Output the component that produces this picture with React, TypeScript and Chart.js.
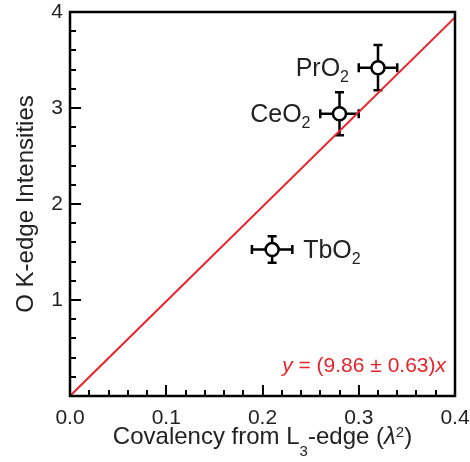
import React, { useEffect, useRef } from 'react';
import { Chart, registerables } from 'chart.js';

Chart.register(...registerables);

// ---- data ----
const compoundNames = ['PrO2', 'CeO2', 'TbO2'];
const covalency = [0.320, 0.280, 0.210];
const covalencyErr = [0.020, 0.020, 0.021];
const intensity = [3.42, 2.94, 1.525];
const intensityErr = [0.235, 0.225, 0.138];
const labelSide = ['left', 'left', 'right'];

// linear fit y = 9.86 x, drawn between its two end points
const fitX = [0, 0.4];
const fitY = [0, 3.944];
const fitSlope = '9.86';
const fitSlopeErr = '0.63';

const xTickValues = [0, 0.1, 0.2, 0.3, 0.4];
const yTickValues = [0, 1, 2, 3, 4];

const FONT = '"Liberation Sans", Arial, Helvetica, sans-serif';
const RED = '#e8232b';
const INK = '#222';

type Part = { t: string; size: number; dy?: number; italic?: boolean };

function fontOf(p: Part) {
  return `${p.italic ? 'italic ' : ''}${p.size}px ${FONT}`;
}
function richWidth(ctx: CanvasRenderingContext2D, parts: Part[]) {
  let w = 0;
  for (const p of parts) {
    ctx.font = fontOf(p);
    w += ctx.measureText(p.t).width;
  }
  return w;
}
function drawRich(ctx: CanvasRenderingContext2D, parts: Part[], x: number, y: number, align: 'left' | 'right' | 'center') {
  const w = richWidth(ctx, parts);
  let cx = align === 'left' ? x : align === 'right' ? x - w : x - w / 2;
  ctx.textAlign = 'left';
  ctx.textBaseline = 'alphabetic';
  for (const p of parts) {
    ctx.font = fontOf(p);
    ctx.fillText(p.t, cx, y + (p.dy || 0));
    cx += ctx.measureText(p.t).width;
  }
}

const decorPlugin = {
  id: 'decor',
  beforeDatasetsDraw(chart: any) {
    const ctx: CanvasRenderingContext2D = chart.ctx;
    const xs = chart.scales.x;
    const ys = chart.scales.y;
    ctx.save();
    ctx.strokeStyle = '#000';
    ctx.lineWidth = 2.5;
    const cap = 4.5;
    for (let i = 0; i < covalency.length; i++) {
      const px = xs.getPixelForValue(covalency[i]);
      const py = ys.getPixelForValue(intensity[i]);
      const x1 = xs.getPixelForValue(covalency[i] - covalencyErr[i]);
      const x2 = xs.getPixelForValue(covalency[i] + covalencyErr[i]);
      const y1 = ys.getPixelForValue(intensity[i] - intensityErr[i]);
      const y2 = ys.getPixelForValue(intensity[i] + intensityErr[i]);
      ctx.beginPath();
      ctx.moveTo(x1, py); ctx.lineTo(x2, py);
      ctx.moveTo(x1, py - cap); ctx.lineTo(x1, py + cap);
      ctx.moveTo(x2, py - cap); ctx.lineTo(x2, py + cap);
      ctx.moveTo(px, y1); ctx.lineTo(px, y2);
      ctx.moveTo(px - cap, y1); ctx.lineTo(px + cap, y1);
      ctx.moveTo(px - cap, y2); ctx.lineTo(px + cap, y2);
      ctx.stroke();
    }
    ctx.restore();
  },
  afterDraw(chart: any) {
    const ctx: CanvasRenderingContext2D = chart.ctx;
    const xs = chart.scales.x;
    const ys = chart.scales.y;
    const a = chart.chartArea;
    ctx.save();

    // frame
    ctx.strokeStyle = '#000';
    ctx.lineWidth = 2.5;
    ctx.strokeRect(a.left, a.top, a.right - a.left, a.bottom - a.top);

    // inward ticks
    ctx.lineWidth = 2;
    ctx.beginPath();
    for (let k = 1; k < 20; k++) {
      const v = k * 0.02;
      const major = k % 5 === 0;
      const px = Math.round(xs.getPixelForValue(v));
      ctx.moveTo(px, a.bottom);
      ctx.lineTo(px, a.bottom - (major ? 11 : 6));
    }
    for (let k = 1; k < 20; k++) {
      const v = k * 0.2;
      const major = k % 5 === 0;
      const py = Math.round(ys.getPixelForValue(v));
      ctx.moveTo(a.left, py);
      ctx.lineTo(a.left + (major ? 11 : 6), py);
    }
    ctx.stroke();

    // compound labels
    ctx.fillStyle = INK;
    for (let i = 0; i < compoundNames.length; i++) {
      const m = compoundNames[i].match(/^(.*?)(\d+)$/);
      const base = m ? m[1] : compoundNames[i];
      const sub = m ? m[2] : '';
      const parts: Part[] = [
        { t: base, size: 25 },
        { t: sub, size: 16, dy: 6 },
      ];
      const px = xs.getPixelForValue(covalency[i]);
      const py = ys.getPixelForValue(intensity[i]);
      if (labelSide[i] === 'left') drawRich(ctx, parts, px - 29, py + 8, 'right');
      else drawRich(ctx, parts, px + 31, py + 8, 'left');
    }

    // fit equation
    ctx.fillStyle = RED;
    drawRich(
      ctx,
      [
        { t: 'y', size: 21, italic: true },
        { t: ` = (${fitSlope} \u00B1 ${fitSlopeErr})`, size: 21 },
        { t: 'x', size: 21, italic: true },
      ],
      a.right - 9,
      a.bottom - 24,
      'right'
    );

    // axis titles
    ctx.fillStyle = INK;
    drawRich(
      ctx,
      [
        { t: 'Covalency from L', size: 24 },
        { t: '3', size: 15, dy: 12 },
        { t: '-edge (', size: 24 },
        { t: '\u03BB', size: 24, italic: true },
        { t: '2', size: 15, dy: -7 },
        { t: ')', size: 24 },
      ],
      (a.left + a.right) / 2,
      444,
      'center'
    );
    ctx.translate(33, (a.top + a.bottom) / 2);
    ctx.rotate(-Math.PI / 2);
    drawRich(ctx, [{ t: 'O K-edge Intensities', size: 24 }], 0, 0, 'center');

    ctx.restore();
  },
};

export default function App() {
  const ref = useRef<HTMLCanvasElement | null>(null);
  useEffect(() => {
    if (!ref.current) return;
    const chart = new Chart(ref.current, {
      type: 'scatter',
      data: {
        datasets: [
          {
            type: 'line',
            data: fitX.map((x, i) => ({ x, y: fitY[i] })),
            borderColor: RED,
            borderWidth: 2,
            pointRadius: 0,
            fill: false,
            order: 2,
          } as any,
          {
            type: 'scatter',
            data: covalency.map((x, i) => ({ x, y: intensity[i] })),
            pointRadius: 6.5,
            pointBorderWidth: 2.5,
            pointBackgroundColor: '#fff',
            pointBorderColor: '#000',
            order: 1,
          } as any,
        ],
      },
      options: {
        animation: false,
        responsive: false,
        events: [],
        layout: { padding: { top: 12, right: 15, left: 0, bottom: 0 } },
        plugins: { legend: { display: false }, tooltip: { enabled: false } },
        scales: {
          x: {
            type: 'linear',
            min: 0,
            max: 0.4,
            afterBuildTicks: (s: any) => {
              s.ticks = xTickValues.map((v) => ({ value: v }));
            },
            afterFit: (s: any) => {
              s.height = 66;
              s.paddingLeft = 0;
              s.paddingRight = 0;
            },
            grid: { display: false, drawTicks: false },
            border: { display: false },
            ticks: {
              color: INK,
              padding: 10,
              maxRotation: 0,
              font: { family: FONT, size: 21 },
              callback: (v: any) => Number(v).toFixed(1),
            },
          },
          y: {
            type: 'linear',
            min: 0,
            max: 4,
            afterBuildTicks: (s: any) => {
              s.ticks = yTickValues.map((v) => ({ value: v }));
            },
            afterFit: (s: any) => {
              s.width = 70;
              s.paddingTop = 0;
              s.paddingBottom = 0;
            },
            grid: { display: false, drawTicks: false },
            border: { display: false },
            ticks: {
              color: INK,
              padding: 7,
              font: { family: FONT, size: 21 },
              callback: (v: any) => (Number(v) === 0 ? '' : String(v)),
            },
          },
        },
      },
      plugins: [decorPlugin],
    });
    return () => chart.destroy();
  }, []);
  return (
    <div style={{ position: 'absolute', left: 0, top: 0, width: 470, height: 462, background: '#fff' }}>
      <canvas ref={ref} width={470} height={462} style={{ display: 'block' }} />
    </div>
  );
}
